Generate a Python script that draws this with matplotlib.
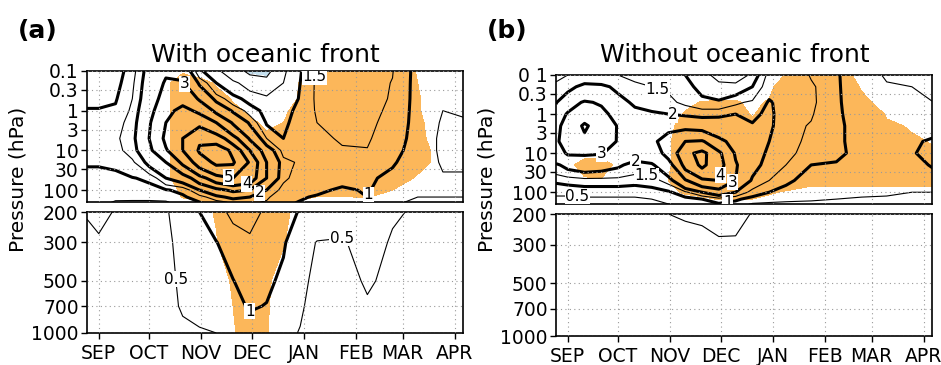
import numpy as np
import matplotlib.pyplot as plt
from matplotlib.ticker import NullLocator

# time axis: days since 1 Sep, pressure levels in hPa
days = [-7, 0, 10, 20, 30, 40, 50, 60, 70, 80, 90, 100, 110, 120, 130, 145, 160, 175, 190, 205, 218]
plev = [0.1, 0.2, 0.5, 1, 2, 5, 10, 20, 50, 100, 150, 200, 300, 500, 700, 1000]

month_days = [0, 30, 61, 91, 122, 153, 181, 212]
month_labels = ["SEP", "OCT", "NOV", "DEC", "JAN", "FEB", "MAR", "APR"]
upper_ticks = [0.1, 0.3, 1, 3, 10, 30, 100]
lower_ticks = [200, 300, 500, 700, 1000]

# one column per day in `days`, values from 0.1 hPa down to 1000 hPa
amp_front = [
    [0.6, 0.7, 0.85, 1.05, 1.2, 1.3, 1.25, 1.05, 0.8, 0.6, 0.55, 0.52, 0.42, 0.35, 0.3, 0.3],
    [0.6, 0.7, 0.85, 1.05, 1.25, 1.4, 1.3, 1.05, 0.8, 0.65, 0.58, 0.58, 0.46, 0.35, 0.3, 0.3],
    [0.7, 0.8, 0.95, 1.1, 1.3, 1.4, 1.35, 1.1, 0.85, 0.7, 0.55, 0.48, 0.4, 0.3, 0.3, 0.3],
    [1.3, 1.4, 1.5, 1.6, 1.7, 1.8, 1.7, 1.4, 0.97, 0.8, 0.6, 0.45, 0.35, 0.3, 0.3, 0.3],
    [2.3, 2.4, 2.5, 2.7, 2.9, 3.0, 2.8, 2.2, 1.1, 0.8, 0.6, 0.45, 0.35, 0.3, 0.3, 0.3],
    [2.9, 3.1, 3.4, 3.7, 4.0, 4.2, 3.9, 3.0, 2.0, 0.95, 0.7, 0.45, 0.4, 0.35, 0.35, 0.35],
    [2.7, 3.1, 3.7, 4.3, 4.6, 5.0, 5.0, 4.2, 2.4, 1.15, 0.9, 0.75, 0.65, 0.6, 0.55, 0.4],
    [1.1, 1.9, 2.9, 3.8, 4.8, 5.9, 6.1, 5.5, 3.6, 2.0, 1.3, 1.0, 0.85, 0.75, 0.65, 0.45],
    [0.6, 1.0, 1.8, 2.8, 4.0, 5.6, 6.6, 6.2, 4.6, 2.7, 1.8, 1.35, 0.98, 0.85, 0.75, 0.5],
    [0.2, 0.6, 1.2, 1.9, 2.9, 4.4, 5.8, 6.1, 5.0, 3.2, 2.2, 1.6, 1.3, 0.98, 0.85, 0.6],
    [-0.1, 0.3, 0.8, 1.3, 1.9, 2.9, 4.0, 4.9, 4.6, 3.0, 2.0, 1.6, 1.45, 1.3, 1.05, 0.75],
    [-0.15, 0.2, 0.6, 0.8, 0.95, 1.5, 2.5, 3.0, 3.0, 2.0, 1.6, 1.45, 1.3, 1.1, 0.98, 0.7],
    [0.4, 0.5, 0.6, 0.75, 0.85, 1.0, 1.3, 1.7, 1.6, 1.3, 1.1, 1.1, 1.05, 0.9, 0.8, 0.6],
    [0.95, 1.0, 1.05, 1.2, 1.3, 1.3, 1.4, 1.4, 1.3, 1.2, 1.05, 0.98, 0.7, 0.6, 0.55, 0.48],
    [1.6, 1.6, 1.6, 1.55, 1.5, 1.4, 1.35, 1.3, 1.2, 1.1, 0.95, 0.8, 0.48, 0.4, 0.35, 0.3],
    [1.7, 1.7, 1.7, 1.7, 1.65, 1.55, 1.45, 1.35, 1.15, 0.92, 0.85, 0.75, 0.45, 0.35, 0.3, 0.3],
    [1.7, 1.7, 1.7, 1.65, 1.6, 1.55, 1.48, 1.3, 1.1, 1.05, 1.0, 0.9, 0.7, 0.55, 0.45, 0.3],
    [1.52, 1.48, 1.45, 1.4, 1.35, 1.25, 1.15, 1.05, 0.85, 0.7, 0.6, 0.55, 0.45, 0.4, 0.35, 0.3],
    [0.8, 0.8, 0.8, 0.8, 0.8, 0.8, 0.8, 0.75, 0.7, 0.6, 0.5, 0.45, 0.4, 0.35, 0.3, 0.3],
    [0.6, 0.6, 0.55, 0.5, 0.45, 0.4, 0.4, 0.45, 0.55, 0.55, 0.5, 0.45, 0.4, 0.35, 0.3, 0.3],
    [0.6, 0.6, 0.6, 0.55, 0.45, 0.4, 0.4, 0.45, 0.55, 0.55, 0.5, 0.45, 0.4, 0.35, 0.3, 0.3],
]

# significance (1 = significant, shaded orange)
sig_front = [
    [0] * 16,
    [0] * 16,
    [0] * 16,
    [0] * 16,
    [0] * 16,
    [0, 0.3, 0.3, 0.3, 0.3, 0.3, 0.3, 0.3, 0.3, 0, 0, 0, 0, 0, 0, 0],
    [0.4, 1, 1, 1, 1, 1, 1, 1, 1, 0.7, 0.55, 0.2, 0, 0, 0, 0],
    [0.2, 0.8, 1, 1, 1, 1, 1, 1, 1, 1, 1, 0.3, 0, 0, 0, 0],
    [0, 0.4, 1, 1, 1, 1, 1, 1, 1, 1, 1, 0.55, 0.45, 0.1, 0, 0],
    [0, 0, 0.4, 0.8, 1, 1, 1, 1, 1, 1, 1, 1, 1, 0.6, 0.5, 0.4],
    [0, 0, 0, 0.3, 0.7, 1, 1, 1, 1, 1, 1, 1, 1, 1, 1, 1],
    [0, 0, 0, 0, 0.3, 0.8, 1, 1, 1, 1, 1, 1, 1, 0.65, 0.6, 0.55],
    [0, 0, 0, 0.3, 0.5, 0.9, 1, 1, 1, 1, 1, 0.7, 0.55, 0.1, 0, 0],
    [0.4, 0.55, 0.6, 0.9, 1, 1, 1, 1, 1, 1, 1, 0.2, 0, 0, 0, 0],
    [1, 1, 1, 1, 1, 1, 1, 1, 1, 1, 0.45, 0, 0, 0, 0, 0],
    [1, 1, 1, 1, 1, 1, 1, 1, 1, 1, 0.45, 0, 0, 0, 0, 0],
    [1, 1, 1, 1, 1, 1, 1, 1, 1, 1, 0.55, 0, 0, 0, 0, 0],
    [1, 1, 1, 1, 1, 1, 1, 1, 1, 0.5, 0.1, 0, 0, 0, 0, 0],
    [0.45, 0.5, 0.55, 0.55, 0.6, 0.65, 0.7, 0.7, 0.4, 0.1, 0, 0, 0, 0, 0, 0],
    [0.1, 0.1, 0.1, 0.1, 0.2, 0.2, 0.3, 0.3, 0.2, 0, 0, 0, 0, 0, 0, 0],
    [0] * 16,
]

amp_nofront = [
    [1.4, 1.6, 1.95, 2.4, 2.8, 2.9, 2.6, 1.9, 1.1, 0.55, 0.45, 0.4, 0.3, 0.3, 0.3, 0.3],
    [1.5, 1.8, 2.6, 3.1, 3.3, 3.3, 3.1, 2.2, 1.2, 0.55, 0.45, 0.4, 0.3, 0.3, 0.3, 0.3],
    [1.6, 2.2, 3.1, 3.6, 4.15, 3.7, 3.1, 2.4, 1.3, 0.6, 0.45, 0.4, 0.3, 0.3, 0.3, 0.3],
    [1.7, 2.1, 2.9, 3.3, 3.5, 3.4, 3.05, 2.3, 1.3, 0.6, 0.45, 0.4, 0.3, 0.3, 0.3, 0.3],
    [1.5, 1.9, 2.2, 2.6, 2.95, 2.95, 2.7, 2.1, 1.3, 0.6, 0.45, 0.4, 0.3, 0.3, 0.3, 0.3],
    [1.4, 1.6, 1.9, 2.2, 2.5, 2.6, 2.3, 1.8, 1.2, 0.6, 0.45, 0.4, 0.3, 0.3, 0.3, 0.3],
    [1.3, 1.5, 1.75, 2.1, 2.5, 2.8, 2.5, 1.9, 1.3, 0.7, 0.5, 0.45, 0.3, 0.3, 0.3, 0.3],
    [1.2, 1.45, 1.6, 2.0, 2.8, 3.4, 3.3, 2.6, 1.7, 0.9, 0.6, 0.5, 0.3, 0.3, 0.3, 0.3],
    [1.0, 1.2, 1.4, 1.9, 2.8, 4.0, 4.7, 4.3, 2.9, 1.4, 0.8, 0.55, 0.3, 0.3, 0.3, 0.3],
    [0.6, 0.8, 1.2, 1.8, 2.7, 4.1, 5.3, 5.2, 3.8, 2.0, 1.0, 0.6, 0.3, 0.3, 0.3, 0.3],
    [0.4, 0.6, 1.1, 1.9, 2.4, 3.3, 4.2, 4.4, 4.0, 2.5, 1.3, 0.95, 0.3, 0.3, 0.3, 0.3],
    [0.2, 0.7, 1.4, 2.0, 2.2, 2.6, 2.9, 3.1, 3.0, 2.0, 1.1, 0.8, 0.35, 0.3, 0.3, 0.3],
    [0.6, 1.0, 1.6, 1.9, 2.05, 2.2, 2.3, 2.2, 1.9, 1.3, 0.8, 0.45, 0.3, 0.3, 0.3, 0.3],
    [1.7, 1.85, 2.05, 2.1, 2.1, 2.0, 1.9, 1.8, 1.5, 1.0, 0.7, 0.4, 0.3, 0.3, 0.3, 0.3],
    [2.0, 1.9, 1.8, 1.75, 1.7, 1.65, 1.6, 1.5, 1.05, 0.9, 0.6, 0.4, 0.3, 0.3, 0.3, 0.3],
    [1.45, 1.6, 1.62, 1.55, 1.45, 1.4, 1.35, 1.0, 0.9, 0.8, 0.55, 0.4, 0.3, 0.3, 0.3, 0.3],
    [1.05, 1.05, 1.05, 1.05, 1.05, 1.05, 1.1, 0.95, 0.85, 0.7, 0.5, 0.4, 0.3, 0.3, 0.3, 0.3],
    [0.7, 0.75, 0.8, 0.85, 0.9, 0.9, 0.85, 0.8, 0.75, 0.6, 0.45, 0.4, 0.3, 0.3, 0.3, 0.3],
    [0.45, 0.55, 0.7, 0.8, 0.85, 0.85, 0.85, 0.8, 0.7, 0.55, 0.45, 0.4, 0.3, 0.3, 0.3, 0.3],
    [0.45, 0.5, 0.55, 0.6, 0.75, 0.9, 0.95, 0.85, 0.7, 0.5, 0.45, 0.4, 0.3, 0.3, 0.3, 0.3],
    [0.45, 0.5, 0.5, 0.6, 0.8, 1.1, 1.2, 1.05, 0.75, 0.5, 0.45, 0.4, 0.3, 0.3, 0.3, 0.3],
]

sig_nofront = [
    [0] * 16,
    [0, 0, 0, 0, 0, 0, 0, 0.3, 0, 0, 0, 0, 0, 0, 0, 0],
    [0, 0, 0, 0, 0, 0, 0.3, 0.8, 0.35, 0, 0, 0, 0, 0, 0, 0],
    [0, 0, 0, 0, 0, 0, 0.3, 0.9, 0.4, 0, 0, 0, 0, 0, 0, 0],
    [0, 0, 0, 0, 0, 0, 0, 0.3, 0.2, 0, 0, 0, 0, 0, 0, 0],
    [0] * 16,
    [0] * 16,
    [0, 0, 0, 0, 0.2, 0.4, 0.4, 0.4, 0.5, 0.3, 0, 0, 0, 0, 0, 0],
    [0, 0, 0.3, 0.6, 1, 1, 1, 1, 1, 0.6, 0.2, 0, 0, 0, 0, 0],
    [0, 0, 0.55, 1, 1, 1, 1, 1, 1, 0.8, 0.3, 0, 0, 0, 0, 0],
    [0, 0, 0.6, 1, 1, 1, 1, 1, 1, 1, 0.55, 0.1, 0, 0, 0, 0],
    [0, 0, 0.6, 1, 1, 1, 1, 1, 1, 1, 0.55, 0, 0, 0, 0, 0],
    [0, 0, 0.3, 0.4, 1, 1, 1, 1, 1, 0.8, 0.5, 0, 0, 0, 0, 0],
    [0, 0.3, 0.6, 1, 1, 1, 1, 1, 1, 0.6, 0.3, 0, 0, 0, 0, 0],
    [0.55, 1, 1, 1, 1, 1, 1, 1, 1, 0.4, 0.1, 0, 0, 0, 0, 0],
    [1, 1, 1, 1, 1, 1, 1, 1, 0.7, 0.2, 0, 0, 0, 0, 0, 0],
    [1, 1, 1, 1, 1, 1, 1, 1, 0.7, 0.2, 0, 0, 0, 0, 0, 0],
    [0.2, 0.45, 0.7, 1, 1, 1, 1, 1, 0.7, 0.2, 0, 0, 0, 0, 0, 0],
    [0, 0, 0.2, 0.45, 0.6, 0.8, 1, 1, 0.7, 0.2, 0, 0, 0, 0, 0, 0],
    [0, 0, 0, 0, 0.45, 0.6, 0.9, 1, 0.7, 0.2, 0, 0, 0, 0, 0, 0],
    [0, 0, 0, 0, 0.3, 0.45, 0.6, 1, 0.7, 0.2, 0, 0, 0, 0, 0, 0],
]

# contour labels: (day, hPa, level)
labels_front_up = [(47, 0.3, 3), (78, 33, 5), (88, 59, 4), (97, 150, 2), (163, 150, 1),
                   (133, 0.14, 1.5)]
labels_front_low = [(89, 860, 1), (55, 480, 0.5), (149, 238, 0.5)]
labels_nofront_up = [(55, 0.16, 1.5), (63, 0.8, 2), (21, 12, 3), (41, 11, 2), (47, 32, 1.5),
                     (6, 95, 0.5), (92, 38, 4), (100, 80, 3), (95, 150, 1)]

ORANGE = "#fcb75a"
BLUE = "#c5e0ef"
thin_levels = [0, 0.5, 1.5]
thick_levels = [1, 2, 3, 4, 5, 6]

plt.rcParams["font.family"] = "DejaVu Sans"
fig = plt.figure(figsize=(9.41, 3.65), dpi=100)


def panel(left, up_bb, low_bb, amp, sig, letter, title, tick01, spots_up, spots_low):
    w = 0.3996
    X, Y = np.meshgrid(days, plev)
    A = np.array(amp).T
    S = np.array(sig).T
    axu = fig.add_axes([left, up_bb[0], w, up_bb[1] - up_bb[0]])
    axl = fig.add_axes([left, low_bb[0], w, low_bb[1] - low_bb[0]])
    for ax, spots in ((axu, spots_up), (axl, spots_low)):
        ax.contourf(X, Y, S, levels=[0.5, 5], colors=[ORANGE])
        ax.contourf(X, Y, A, levels=[-5, -0.05], colors=[BLUE])
        # one contour set per level so each can be labelled on its own
        sets = {}
        for lev in thin_levels + thick_levels:
            if A.min() < lev < A.max():
                lw = 2.2 if lev in thick_levels else 0.8
                sets[lev] = ax.contour(X, Y, A, levels=[lev], colors="k", linewidths=lw)
        ax.set_yscale("log")
        ax.set_xlim(-7, 217)
        ax.yaxis.set_minor_locator(NullLocator())
        ax.set_xticks(month_days)
        ax.grid(True, ls=(0, (1, 3)), color="#9a9a9a", lw=0.8)
        ax.set_axisbelow(False)
        ax.tick_params(axis="y", direction="out", length=4, width=1, pad=2, labelsize=13.5)
        for s in ax.spines.values():
            s.set_linewidth(1.2)
        if ax is axu:
            ax.set_ylim(200, 0.1)
        else:
            ax.set_ylim(1000, 200)
        for x, y, lev in spots:
            txt = sets[lev].clabel(manual=[(x, y)], fmt="%g", fontsize=11, inline=False)
            for t in txt:
                t.set_rotation(0)
                t.set_bbox(dict(facecolor="white", edgecolor="none", pad=0.4))

    axu.set_yticks(upper_ticks)
    axu.set_yticklabels([tick01, "0.3", "1", "3", "10", "30", "100"])
    axl.set_yticks(lower_ticks)
    axl.set_yticklabels([str(v) for v in lower_ticks])
    axu.tick_params(axis="x", length=0, labelbottom=False)
    axl.set_xticklabels(month_labels)
    axl.tick_params(axis="x", direction="out", length=4, width=1, pad=4, labelsize=13.5)

    fig.text(left - 0.073, 1 - 31 / 365, letter, fontsize=18, fontweight="bold",
             va="center", ha="left")
    fig.text(left + w / 2 - 0.01, 1 - 62 / 365, title, fontsize=18, ha="center", va="baseline")
    fig.text(left - 0.073, 1 - 179 / 365, "Pressure (hPa)", rotation=90, fontsize=14.5,
             ha="center", va="center")


panel(87 / 941, (163 / 365, 294 / 365), (32 / 365, 153 / 365), amp_front, sig_front,
      "(a)", "With oceanic front", "0.1", labels_front_up, labels_front_low)
panel(556 / 941, (161 / 365, 290 / 365), (29 / 365, 151 / 365), amp_nofront, sig_nofront,
      "(b)", "Without oceanic front", "0 1", labels_nofront_up, [])

fig.savefig("out.png", dpi=100)
